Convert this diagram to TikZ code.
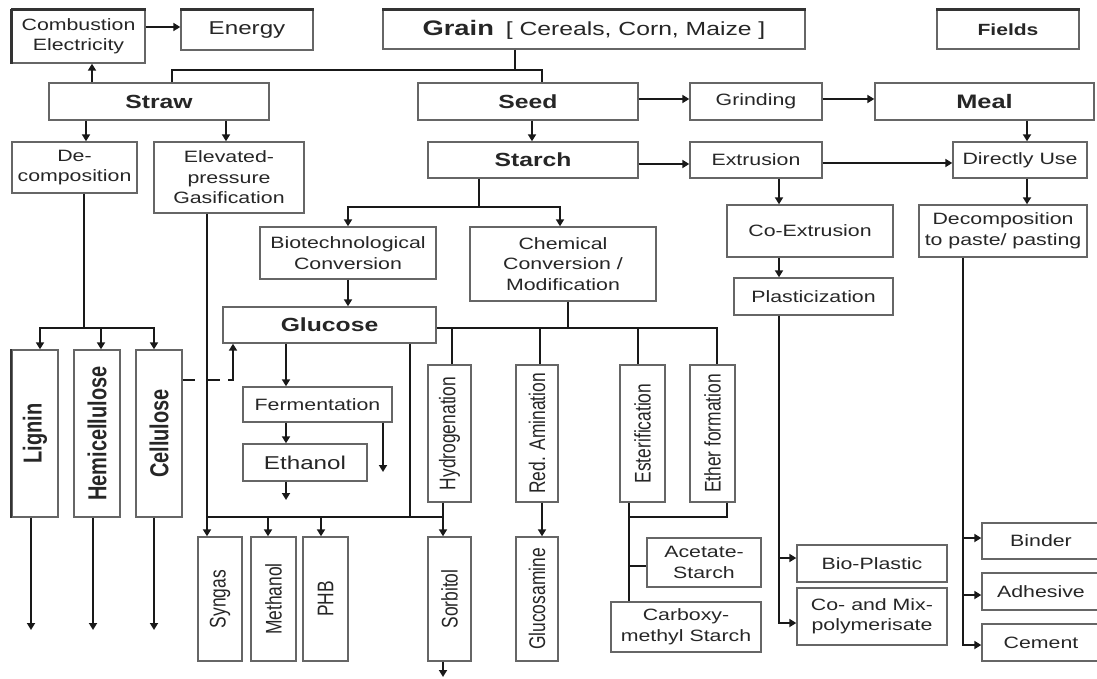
\documentclass[tikz,border=0pt]{standalone}
\usepackage{fontspec}
\setmainfont{Liberation Sans}[FakeStretch=1.3]
\newfontfamily\rotfont{Liberation Sans}
\usepackage{graphicx}
\usetikzlibrary{arrows.meta}
\newcommand\bx[7][]{%
  \pgfmathsetmacro\myW{#5-#3}\pgfmathsetmacro\myH{#6-#4}%
  \pgfmathsetmacro\myCX{(#3+#5)/2}\pgfmathsetmacro\myCY{(#4+#6)/2}%
  \node[boxs,minimum width=\myW pt,minimum height=\myH pt,#1] (#2) at (\myCX,\myCY) {#7};}
\newcommand\rl[3][]{\node[rotate=90,inner sep=0pt,text=black!85,font=\rotfont\fontsize{17.4}{20}\selectfont,#1] at (#2.center) {\scalebox{1}[1.3]{#3}};}
\begin{document}
\begin{tikzpicture}[x=1pt,y=-1pt,
  boxs/.style={draw=black!60,line width=1.4pt,fill=white,inner sep=0pt,align=center,text=black!85,font=\fontsize{16.4}{20.5}\selectfont},
  bigt/.style={font=\fontsize{18.6}{22}\selectfont},
  boldt/.style={font=\bfseries\fontsize{19}{22}\selectfont},
  conn/.style={line width=2.8pt,black!90},
  arr/.style={conn,-{Triangle[length=7pt,width=8pt]}},
  topline/.style={line width=2.8pt,black!80}]
\useasboundingbox (0,0) rectangle (1097,679);
% ---------- boxes ----------
\bx{comb}{12}{10}{145}{63}{Combustion\\Electricity}
\bx[bigt]{energy}{181}{10}{313}{50}{Energy}
\bx{grain}{383}{10}{805}{49}{{\bfseries\fontsize{21}{24}\selectfont Grain}\hspace{12pt}{\fontsize{19}{22}\selectfont[ Cereals, Corn, Maize ]}}
\bx[font=\bfseries\fontsize{16.2}{20}\selectfont]{fields}{937}{10}{1079}{49}{Fields}
\bx[boldt]{straw}{49}{83}{269}{120}{Straw}
\bx[boldt]{seed}{418}{83}{638}{120}{Seed}
\bx{grind}{690}{83}{822}{120}{Grinding}
\bx[font=\bfseries\fontsize{19.5}{22}\selectfont]{meal}{875}{83}{1094}{120}{Meal}
\bx{decomp}{12}{142}{137}{193}{De-\\composition}
\bx{elev}{154}{142}{304}{213}{Elevated-\\pressure\\Gasification}
\bx[boldt]{starch}{428}{142}{638}{178}{Starch}
\bx{extr}{690}{142}{822}{178}{Extrusion}
\bx{direct}{953}{142}{1087}{178}{Directly Use}
\bx{biotech}{260}{227}{436}{279}{Biotechnological\\Conversion}
\bx{chem}{470}{227}{656}{301}{Chemical\\Conversion /\\Modification}
\bx{coext}{727}{205}{893}{257}{Co-Extrusion}
\bx{decpaste}{919}{205}{1087}{257}{Decomposition\\to paste/ pasting}
\bx{plast}{734}{278}{893}{315}{Plasticization}
\bx[boldt]{glucose}{223}{307}{436}{343}{Glucose}
\bx{lignin}{12}{350}{58}{517}{}
\bx{hemi}{74}{350}{120}{517}{}
\bx{cell}{136}{350}{182}{517}{}
\bx{hydro}{428}{365}{471}{502}{}
\bx{redam}{516}{365}{558}{502}{}
\bx{ester}{620}{365}{665}{502}{}
\bx{ether}{690}{365}{735}{502}{}
\bx{ferm}{243}{387}{392}{422}{Fermentation}
\bx[bigt]{ethanol}{243}{444}{367}{481}{Ethanol}
\bx{syngas}{198}{537}{242}{661}{}
\bx{methanol}{251}{537}{296}{661}{}
\bx{phb}{303}{537}{348}{661}{}
\bx{sorbitol}{428}{537}{471}{661}{}
\bx{glucosamine}{516}{537}{558}{661}{}
\bx{acetate}{647}{538}{761}{587}{Acetate-\\Starch}
\bx{carboxy}{611}{602}{761}{652}{Carboxy-\\methyl Starch}
\bx{bioplastic}{797}{545}{947}{582}{Bio-Plastic}
\bx{comix}{797}{588}{947}{645}{Co- and Mix-\\polymerisate}
\bx{binder}{982}{523}{1100}{559}{Binder}
\bx{adhesive}{982}{573}{1100}{610}{Adhesive}
\bx{cement}{982}{624}{1100}{661}{Cement}
% heavier edges
\draw[topline] (comb.north west) -- (comb.north east);
\draw[topline] (comb.north west) -- (comb.south west);
\draw[topline] (energy.north west) -- (energy.north east);
\draw[topline] (grain.north west) -- (grain.north east);
\draw[topline] (fields.north west) -- (fields.north east);
\draw[topline,line width=2.2pt] (lignin.north west) -- (lignin.south west);
% rotated labels
\rl[font=\rotfont\bfseries\fontsize{20}{24}\selectfont]{lignin}{Lignin}
\rl[font=\rotfont\bfseries\fontsize{20}{24}\selectfont]{hemi}{Hemicellulose}
\rl[font=\rotfont\bfseries\fontsize{20}{24}\selectfont]{cell}{Cellulose}
\rl{hydro}{Hydrogenation}
\rl{redam}{Red. Amination}
\rl{ester}{Esterification}
\rl{ether}{Ether formation}
\rl{syngas}{Syngas}
\rl{methanol}{Methanol}
\rl{phb}{PHB}
\rl{sorbitol}{Sorbitol}
\rl{glucosamine}{Glucosamine}
% ---------- connectors ----------
\draw[arr] (comb.east |- 0,27) -- (energy.west |- 0,27);
\draw[arr] (92,0 |- straw.north) -- (92,0 |- comb.south);
\coordinate (gj) at (515,70);
\draw[conn] (515,0 |- grain.south) -- (gj);
\draw[conn] (172,0 |- straw.north) -- (172,70) -- (542,70) -- (542,0 |- seed.north);
\draw[arr] (seed.east |- 0,99) -- (grind.west |- 0,99);
\draw[arr] (grind.east |- 0,99) -- (meal.west |- 0,99);
\draw[arr] (532,0 |- seed.south) -- (532,0 |- starch.north);
\draw[arr] (starch.east |- 0,164) -- (extr.west |- 0,164);
\draw[arr] (extr.east |- 0,163) -- (direct.west |- 0,163);
\draw[arr] (1027,0 |- meal.south) -- (1027,0 |- direct.north);
\draw[arr] (1027,0 |- direct.south) -- (1027,0 |- decpaste.north);
\draw[arr] (779,0 |- extr.south) -- (779,0 |- coext.north);
\draw[arr] (779,0 |- coext.south) -- (779,0 |- plast.north);
\draw[conn] (779,0 |- plast.south) -- (779,558);
\draw[arr] (779,558) -- (bioplastic.west |- 0,558);
\draw[arr] (779,557) -- (779,623) -- (comix.west |- 0,623);
\draw[conn] (963,0 |- decpaste.south) -- (963,538);
\draw[arr] (963,538) -- (binder.west |- 0,538);
\draw[arr] (963,595) -- (adhesive.west |- 0,595);
\draw[arr] (963,537) -- (963,645) -- (cement.west |- 0,645);
% straw side
\draw[arr] (86,0 |- straw.south) -- (86,0 |- decomp.north);
\draw[arr] (226,0 |- straw.south) -- (226,0 |- elev.north);
\draw[conn] (84,0 |- decomp.south) -- (84,328);
\draw[conn] (40,328) -- (154,328);
\draw[arr] (40,327) -- (40,0 |- lignin.north);
\draw[arr] (101,328) -- (101,0 |- hemi.north);
\draw[arr] (154,327) -- (154,0 |- cell.north);
\coordinate (lo) at (31,630);
\coordinate (ho) at (93,630);
\coordinate (co) at (154,630);
\draw[arr] (31,0 |- lignin.south) -- (lo);
\draw[arr] (93,0 |- hemi.south) -- (ho);
\draw[arr] (154,0 |- cell.south) -- (co);
\draw[arr] (207,0 |- elev.south) -- (207,0 |- syngas.north);
\draw[conn] (207,517) -- (443,517);
\draw[arr] (268,517) -- (268,0 |- methanol.north);
\draw[arr] (321,517) -- (321,0 |- phb.north);
\draw[conn] (410,0 |- glucose.south) -- (410,517);
\draw[arr] (443,0 |- hydro.south) -- (443,0 |- sorbitol.north);
\coordinate (so) at (443,677);
\draw[arr] (443,0 |- sorbitol.south) -- (so);
% cellulose to glucose
\draw[conn] (cell.east |- 0,380) -- (195,380);
\draw[conn] (207,380) -- (220,380);
\draw[arr] (228,380) -- (233,380) -- (233,0 |- glucose.south);
% starch split
\draw[conn] (479,0 |- starch.south) -- (479,207);
\draw[arr] (348,207) -- (348,0 |- biotech.north);
\draw[conn] (347,207) -- (561,207);
\draw[arr] (560,207) -- (560,0 |- chem.north);
\draw[arr] (348,0 |- biotech.south) -- (348,0 |- glucose.north);
% chemical branches
\draw[conn] (568,0 |- chem.south) -- (568,328);
\draw[conn] (glucose.east |- 0,328) -- (717,328) -- (717,0 |- ether.north);
\draw[conn] (452,328) -- (452,0 |- hydro.north);
\draw[conn] (540,328) -- (540,0 |- redam.north);
\draw[conn] (638,328) -- (638,0 |- ester.north);
% glucose -> fermentation -> ethanol
\draw[arr] (286,0 |- glucose.south) -- (286,0 |- ferm.north);
\draw[arr] (286,0 |- ferm.south) -- (286,0 |- ethanol.north);
\coordinate (eo) at (286,500);
\draw[arr] (286,0 |- ethanol.south) -- (eo);
\coordinate (fo) at (383,472);
\draw[arr] (383,0 |- ferm.south) -- (fo);
% amination, esterification, ether
\draw[arr] (542,0 |- redam.south) -- (542,0 |- glucosamine.north);
\draw[conn] (629,0 |- ester.south) -- (629,0 |- carboxy.north);
\draw[conn] (727,0 |- ether.south) -- (727,517) -- (629,517);
\draw[conn] (629,566) -- (acetate.west |- 0,566);
\end{tikzpicture}
\end{document}
